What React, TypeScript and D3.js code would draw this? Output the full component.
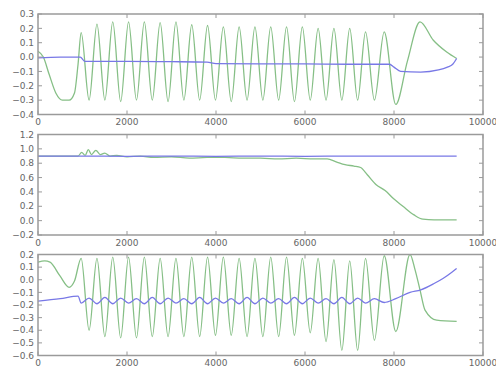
import * as d3 from 'd3';

type Pt = [number, number];

// shared turning points of the fast oscillation (sample index)
const peakX = [970, 1325, 1680, 2035, 2390, 2745, 3100, 3455, 3810, 4165, 4520, 4875, 5230, 5585, 5940, 6295, 6650, 7005, 7360, 7780];
const troughX = [1148, 1503, 1858, 2213, 2568, 2923, 3278, 3633, 3988, 4343, 4698, 5053, 5408, 5763, 6118, 6473, 6828, 7183, 7560, 8040];

const xTicks = [0, 2000, 4000, 6000, 8000, 10000];
const topYTicks = [-0.4, -0.3, -0.2, -0.1, 0.0, 0.1, 0.2, 0.3];
const midYTicks = [-0.2, 0.0, 0.2, 0.4, 0.6, 0.8, 1.0, 1.2];
const botYTicks = [-0.6, -0.5, -0.4, -0.3, -0.2, -0.1, 0.0, 0.1, 0.2];

// panel 1
const topGreenLead: Pt[] = [[0, 0.04], [120, 0.0], [250, -0.12], [400, -0.25], [550, -0.3], [700, -0.3], [820, -0.25], [900, -0.05]];
const topGreenPeaks = [0.17, 0.23, 0.245, 0.245, 0.245, 0.24, 0.245, 0.225, 0.22, 0.21, 0.21, 0.21, 0.21, 0.21, 0.21, 0.2, 0.2, 0.2, 0.175, 0.175];
const topGreenTroughs = [-0.3, -0.3, -0.31, -0.3, -0.3, -0.31, -0.3, -0.3, -0.3, -0.31, -0.3, -0.3, -0.3, -0.31, -0.3, -0.3, -0.3, -0.3, -0.3, -0.33];
const topGreenTail: Pt[] = [[8300, -0.03], [8584, 0.245], [8884, 0.117], [9184, 0.035], [9408, -0.01]];
const topBlue: Pt[] = [[0, -0.005], [500, 0.0], [950, 0.0], [1050, -0.03], [2000, -0.03], [3000, -0.032], [3800, -0.035], [4000, -0.045], [5000, -0.047], [6000, -0.048], [7000, -0.05], [7900, -0.05], [8000, -0.07], [8150, -0.1], [8600, -0.105], [9000, -0.09], [9200, -0.07], [9320, -0.05], [9408, -0.01]];

// panel 2
const midBlue: Pt[] = [[0, 0.9], [1000, 0.9], [2000, 0.895], [3000, 0.9], [4000, 0.895], [5000, 0.9], [6000, 0.895], [7000, 0.9], [8000, 0.9], [9000, 0.9], [9408, 0.9]];
const midGreen: Pt[] = [[0, 0.9], [900, 0.9], [981, 0.95], [1060, 0.91], [1131, 0.99], [1200, 0.92], [1300, 0.98], [1400, 0.92], [1500, 0.94], [1618, 0.9], [1768, 0.91], [2000, 0.89], [2300, 0.9], [2600, 0.88], [3000, 0.89], [3400, 0.87], [3800, 0.88], [4200, 0.88], [4600, 0.87], [5000, 0.87], [5400, 0.86], [5800, 0.87], [6200, 0.86], [6500, 0.86], [6700, 0.82], [6900, 0.78], [7100, 0.76], [7250, 0.74], [7400, 0.64], [7600, 0.5], [7800, 0.42], [8000, 0.3], [8200, 0.2], [8450, 0.08], [8650, 0.02], [8900, 0.01], [9408, 0.01]];

// panel 3
const botGreenLead: Pt[] = [[0, 0.14], [150, 0.15], [270, 0.14], [494, 0.03], [700, -0.06], [820, -0.01]];
const botGreenPeaks = [0.17, 0.17, 0.18, 0.18, 0.18, 0.17, 0.17, 0.18, 0.18, 0.18, 0.17, 0.17, 0.18, 0.18, 0.17, 0.17, 0.16, 0.15, 0.17, 0.19];
const botGreenTroughs = [-0.4, -0.45, -0.46, -0.46, -0.45, -0.45, -0.45, -0.45, -0.44, -0.44, -0.45, -0.45, -0.45, -0.44, -0.42, -0.49, -0.56, -0.56, -0.48, -0.41];
const botGreenTail: Pt[] = [[8360, 0.2], [8472, 0.08], [8584, -0.08], [8697, -0.24], [8959, -0.32], [9408, -0.33]];
const botBlueLead: Pt[] = [[0, -0.17], [500, -0.15], [900, -0.13]];
const botBluePeaks = [-0.185, -0.19, -0.19, -0.185, -0.19, -0.19, -0.185, -0.19, -0.19, -0.185, -0.19, -0.19, -0.185, -0.19, -0.19, -0.185, -0.19, -0.19, -0.185, -0.18];
const botBlueTroughs = [-0.145, -0.14, -0.145, -0.15, -0.14, -0.145, -0.15, -0.14, -0.145, -0.15, -0.14, -0.145, -0.15, -0.14, -0.145, -0.15, -0.14, -0.145, -0.15, -0.15];
const botBlueTail: Pt[] = [[8360, -0.1], [8600, -0.08], [8900, -0.03], [9100, 0.01], [9300, 0.06], [9408, 0.09]];

function weave(lead: Pt[], peaks: number[], troughs: number[], tail: Pt[]): Pt[] {
  const pts: Pt[] = [...lead];
  peakX.forEach((x, i) => {
    pts.push([x, peaks[i]]);
    pts.push([troughX[i], troughs[i]]);
  });
  return [...pts, ...tail];
}

const BLUE = '#7878e6';
const GREEN = '#86bf86';
const FRAME = '#9a9a9a';

const left = 38;
const right = 483;

const panels = [
  { top: 14, bottom: 114.5, domain: [-0.4, 0.3], ticks: topYTicks, green: weave(topGreenLead, topGreenPeaks, topGreenTroughs, topGreenTail), blue: topBlue },
  { top: 134.5, bottom: 235, domain: [-0.2, 1.2], ticks: midYTicks, green: midGreen, blue: midBlue },
  { top: 254.5, bottom: 355.5, domain: [-0.6, 0.2], ticks: botYTicks, green: weave(botGreenLead, botGreenPeaks, botGreenTroughs, botGreenTail), blue: weave(botBlueLead, botBluePeaks, botBlueTroughs, botBlueTail) },
];

const fmt = (v: number) => v.toFixed(1).replace('-', '\u2212');

const Panel = ({ p, idx }: { p: typeof panels[number]; idx: number }) => {
  const x = d3.scaleLinear().domain([0, 10000]).range([left, right]);
  const y = d3.scaleLinear().domain(p.domain).range([p.bottom, p.top]);
  const line = d3.line<Pt>()
    .x(d => x(d[0]))
    .y(d => y(d[1]))
    .curve(d3.curveMonotoneX);
  const tl = 4;
  return (
    <g>
      <clipPath id={`clip${idx}`}>
        <rect x={left} y={p.top} width={right - left} height={p.bottom - p.top} />
      </clipPath>
      <g clipPath={`url(#clip${idx})`}>
        <path d={line(p.green) || ''} fill="none" stroke={GREEN} strokeWidth={1.3} />
        <path d={line(p.blue) || ''} fill="none" stroke={BLUE} strokeWidth={1.3} />
      </g>
      {p.ticks.map(t => (
        <g key={`y${t}`} stroke={FRAME} strokeWidth={1}>
          <line x1={left} x2={left + tl} y1={y(t)} y2={y(t)} />
          <line x1={right} x2={right - tl} y1={y(t)} y2={y(t)} />
        </g>
      ))}
      {xTicks.map(t => (
        <g key={`x${t}`} stroke={FRAME} strokeWidth={1}>
          <line x1={x(t)} x2={x(t)} y1={p.bottom} y2={p.bottom - tl} />
          <line x1={x(t)} x2={x(t)} y1={p.top} y2={p.top + tl} />
        </g>
      ))}
      <rect x={left} y={p.top} width={right - left} height={p.bottom - p.top} fill="none" stroke={FRAME} strokeWidth={1.5} />
      {p.ticks.map(t => (
        <text key={`yl${t}`} x={left - 4} y={y(t) + 3.2} textAnchor="end" fontSize={9} fill="#666">{fmt(t)}</text>
      ))}
      {xTicks.map(t => (
        <text key={`xl${t}`} x={x(t)} y={p.bottom + 10.5} textAnchor="middle" fontSize={9} fill="#666">{t}</text>
      ))}
    </g>
  );
};

export default function App() {
  return (
    <svg
      width={496}
      height={368}
      style={{ position: 'absolute', left: 0, top: 0, background: '#fff', fontFamily: 'DejaVu Sans, sans-serif' }}
    >
      <rect width={496} height={368} fill="#fff" />
      {panels.map((p, i) => <Panel key={i} p={p} idx={i} />)}
    </svg>
  );
}
